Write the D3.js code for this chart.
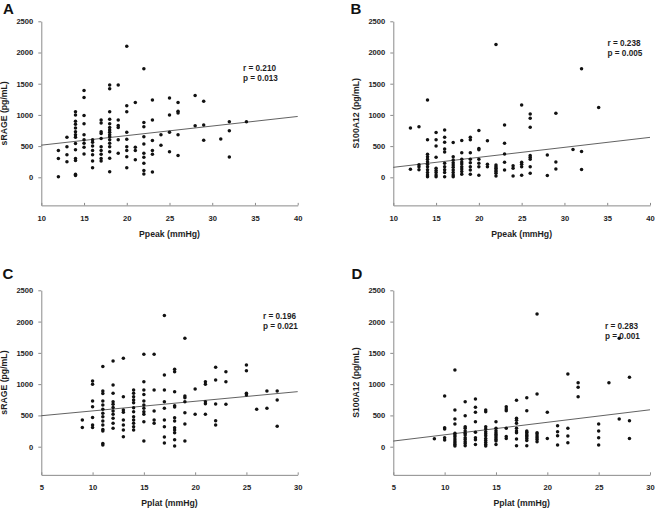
<!DOCTYPE html>
<html><head><meta charset="utf-8">
<script src="https://cdn.jsdelivr.net/npm/d3@7"></script>
<style>
html,body{margin:0;padding:0;background:#fff;}
svg{display:block;font-family:"Liberation Sans",Arial,sans-serif;}
</style></head>
<body>
<svg id="chart" width="655" height="509"></svg>
<script>
// ---------- data ----------
const ppeakTicks = [10, 15, 20, 25, 30, 35, 40];
const pplatTicks = [5, 10, 15, 20, 25, 30];
const yTicks = [0, 500, 1000, 1500, 2000, 2500];

// Panel A: sRAGE vs Ppeak
const aX = [12, 13, 14, 15, 16, 17, 18, 19, 20, 21, 22, 23, 24, 25, 26, 28, 29, 31, 32, 34];
const aY = [
  [10, 300, 430],
  [640, 490, 360, 250],
  [1050, 1000, 900, 850, 790, 730, 680, 640, 540, 440, 300, 270, 50, 30],
  [1390, 1280, 990, 860, 680, 600, 545, 480, 375],
  [600, 560, 500, 430, 360, 260, 155],
  [920, 870, 730, 700, 620, 490, 430, 370, 300, 260],
  [1480, 1420, 1050, 930, 860, 800, 760, 720, 680, 650, 600, 545, 490, 410, 305, 90],
  [1480, 920, 830, 800, 600, 385],
  [2100, 1145, 1050, 720, 610, 490, 430, 330, 155],
  [1200, 480, 430, 280],
  [1740, 880, 810, 650, 535, 385, 320, 225, 107, 53],
  [1240, 920, 590, 430, 370, 85],
  [680, 515],
  [1270, 1000, 720, 410],
  [1200, 1060, 1030, 680, 350],
  [1310, 825],
  [1220, 840, 595],
  [615],
  [890, 745, 325],
  [890]
];
const aFit = [515, 975];

// Panel B: S100A12 vs Ppeak
const bX = [12, 13, 14, 15, 16, 17, 18, 19, 20, 21, 22, 23, 24, 25, 26, 28, 29, 31, 32, 34];
const bY = [
  [790, 130],
  [810, 200, 170, 120],
  [1240, 600, 370, 330, 290, 250, 210, 170, 120, 75, 37, 10],
  [717, 600, 500, 320, 145, 107, 75, 37, 10],
  [760, 640, 560, 455, 405, 225, 170, 120, 75, 10],
  [556, 330, 278, 235, 198, 160, 118, 75, 37, 10],
  [590, 395, 290, 246, 214, 171, 134, 91, 48],
  [640, 600, 395, 290, 235, 171, 118, 48],
  [750, 460, 440, 290, 225, 171, 32],
  [585, 209, 171],
  [2130, 198, 171, 145, 118, 91, 64, 21],
  [840, 546, 375, 241, 118],
  [187, 145, 21],
  [1160, 241, 209, 171, 32],
  [1016, 947, 802, 348, 321, 290, 171, 64],
  [358, 27],
  [1027, 246, 134],
  [444],
  [1739, 412, 123],
  [1118]
];
const bFit = [160, 640];

// Panel C: sRAGE vs Pplat
const cX = [9, 10, 11, 12, 13, 14, 15, 16, 17, 18, 19, 20, 21, 22, 23, 25, 26, 27, 28];
const cY = [
  [425, 305],
  [1050, 1000, 730, 640, 465, 345, 305],
  [1280, 890, 850, 730, 665, 600, 535, 480, 410, 345, 275, 250, 53, 27],
  [1370, 985, 855, 720, 680, 625, 570, 520, 455, 375, 295],
  [1413, 800, 586, 549, 426, 346, 266, 160],
  [906, 853, 800, 746, 704, 624, 560, 480, 426, 373, 320, 266],
  [1477, 1040, 906, 836, 730, 666, 613, 560, 517, 400, 90],
  [1477, 906, 570, 426, 373],
  [2096, 1146, 906, 720, 613, 426, 320, 155, 58],
  [1237, 1200, 880, 656, 635, 464, 410, 304, 266, 224, 110, 10],
  [1733, 810, 783, 720, 544, 362, 90],
  [922, 517],
  [1040, 997, 720, 688, 517],
  [1269, 1066, 682, 416, 346],
  [1200, 1040, 677],
  [1306, 1215, 853, 826],
  [597],
  [890, 613],
  [890, 746, 325]
];
const cFit = [495, 880];

// Panel D: S100A12 vs Pplat
const dX = [9, 10, 11, 12, 13, 14, 15, 16, 17, 18, 19, 20, 21, 22, 23, 25, 26, 27, 28];
const dY = [
  [128],
  [810, 304, 283, 144, 106],
  [1226, 586, 442, 362, 213, 186, 160, 122, 90, 64, 37, 10],
  [720, 496, 320, 293, 250, 213, 186, 144, 117, 80, 53, 16],
  [762, 629, 549, 400, 229, 144, 112, 37],
  [586, 560, 320, 283, 240, 208, 176, 133, 101, 69, 37, 10],
  [400, 293, 256, 224, 197, 170, 144, 117, 90, 37],
  [640, 602, 576, 293, 165, 133],
  [741, 453, 421, 373, 293, 250, 224, 122, 16],
  [784, 576, 250, 229, 202, 181, 160, 133, 101, 16],
  [2121, 842, 224, 202, 170, 144, 117, 80],
  [549, 133],
  [336, 240, 176, 27],
  [1162, 293, 170, 64],
  [1024, 949, 800],
  [362, 250, 144, 27],
  [1024],
  [1733, 442],
  [1109, 416, 133]
];
const dFit = [90, 590];

const letters = ["A", "B", "C", "D"];
const yTitles = ["sRAGE (pg/mL)", "S100A12 (pg/mL)", "sRAGE (pg/mL)", "S100A12 (pg/mL)"];
const xTitles = ["Ppeak (mmHg)", "Ppeak (mmHg)", "Pplat (mmHg)", "Pplat (mmHg)"];
const rTexts = ["r = 0.210", "r = 0.238", "r = 0.196", "r = 0.283"];
const pTexts = ["p = 0.013", "p = 0.005", "p = 0.021", "p = 0.001"];

// ---------- layout ----------
const panels = [
  {xs: aX, ys: aY, fit: aFit, dom: [10, 40], ticks: ppeakTicks, left: 41.3, right: 297.7, top: 21.3, zero: 177.3, letter: [3, 13.5], stat: [243, 70.5]},
  {xs: bX, ys: bY, fit: bFit, dom: [10, 40], ticks: ppeakTicks, left: 393.3, right: 650, top: 21.3, zero: 177.3, letter: [350.5, 13.5], stat: [607.5, 45.5]},
  {xs: cX, ys: cY, fit: cFit, dom: [5, 30], ticks: pplatTicks, left: 41.3, right: 297.7, top: 290.3, zero: 446.7, letter: [2.5, 279], stat: [263, 319]},
  {xs: dX, ys: dY, fit: dFit, dom: [5, 30], ticks: pplatTicks, left: 393.3, right: 650, top: 290.3, zero: 446.7, letter: [351.5, 279], stat: [605, 329]}
];

const svg = d3.select("#chart");
const axisCol = "#8a8a8a";
const textCol = "#1e1e1e";
const fmt = d3.format("d");

panels.forEach((p, i) => {
  const yMin = -450;
  const pxPerUnit = (p.zero - p.top) / 2500;
  const bottom = p.zero + (-yMin) * pxPerUnit;
  const x = d3.scaleLinear().domain(p.dom).range([p.left, p.right]);
  const y = d3.scaleLinear().domain([yMin, 2500]).range([bottom, p.top]);
  const g = svg.append("g");

  // y axis
  const ya = g.append("g").attr("transform", `translate(${p.left},0)`)
    .call(d3.axisLeft(y).tickValues(yTicks).tickFormat(fmt).tickSize(3).tickSizeOuter(0).tickPadding(5));
  // x axis
  const xa = g.append("g").attr("transform", `translate(0,${bottom})`)
    .call(d3.axisBottom(x).tickValues(p.ticks).tickFormat(fmt).tickSize(-2.5).tickSizeOuter(0).tickPadding(10));
  [ya, xa].forEach(a => {
    a.select(".domain").attr("stroke", axisCol).attr("stroke-width", 1);
    a.selectAll(".tick line").attr("stroke", axisCol).attr("stroke-width", 1);
    a.selectAll(".tick text").attr("fill", textCol).style("font-size", "7.6px").style("font-weight", "bold");
  });

  // regression line
  g.append("line")
    .attr("x1", x(p.dom[0])).attr("y1", y(p.fit[0]))
    .attr("x2", x(p.dom[1])).attr("y2", y(p.fit[1]))
    .attr("stroke", "#3a3a3a").attr("stroke-width", 0.8);

  // points
  const pts = [];
  p.xs.forEach((xv, k) => p.ys[k].forEach(yv => pts.push([xv, yv])));
  g.selectAll("circle.pt").data(pts).enter().append("circle")
    .attr("class", "pt")
    .attr("cx", d => x(d[0])).attr("cy", d => y(d[1]))
    .attr("r", 1.75).attr("fill", "#111");

  // titles
  g.append("text")
    .attr("transform", `translate(${p.left - 34},${(p.top + bottom) / 2}) rotate(-90)`)
    .attr("text-anchor", "middle").attr("fill", textCol)
    .style("font-size", "8.7px").style("font-weight", "bold")
    .text(yTitles[i]);
  g.append("text")
    .attr("x", (p.left + p.right) / 2).attr("y", bottom + 31.5)
    .attr("text-anchor", "middle").attr("fill", textCol)
    .style("font-size", "8.7px").style("font-weight", "bold")
    .text(xTitles[i]);

  // panel letter
  g.append("text")
    .attr("x", p.letter[0]).attr("y", p.letter[1])
    .attr("fill", "#111")
    .style("font-size", "15px").style("font-weight", "bold")
    .text(letters[i]);

  // stats
  g.append("text").attr("x", p.stat[0]).attr("y", p.stat[1])
    .attr("fill", textCol).style("font-size", "8.2px").style("font-weight", "bold")
    .text(rTexts[i]);
  g.append("text").attr("x", p.stat[0]).attr("y", p.stat[1] + 10)
    .attr("fill", textCol).style("font-size", "8.2px").style("font-weight", "bold")
    .text(pTexts[i]);
});
</script>
</body></html>
